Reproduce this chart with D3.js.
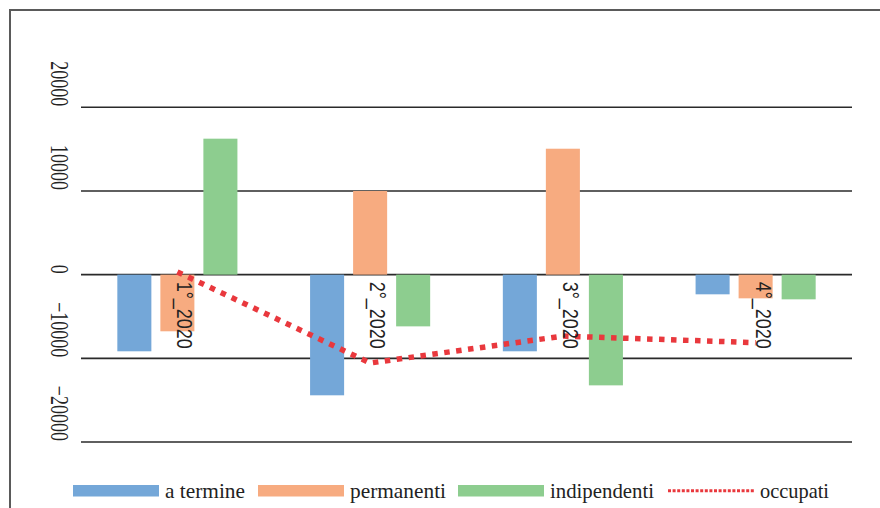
<!DOCTYPE html>
<html>
<head>
<meta charset="utf-8">
<script src="https://cdn.jsdelivr.net/npm/d3@7"></script>
<style>
  html, body { margin: 0; padding: 0; background: #fff; }
  svg { display: block; }
  .serif { font-family: "Liberation Serif", "DejaVu Serif", serif; }
  .sans { font-family: "Liberation Sans", "DejaVu Sans", sans-serif; }
</style>
</head>
<body>
<svg id="chart" width="880" height="508"></svg>
<script>
// Quarterly change in employment, 2020
const quarters = ["1°_2020", "2°_2020", "3°_2020", "4°_2020"];
const seriesNames = ["a termine", "permanenti", "indipendenti"];
const aTermine = [-9160, -14420, -9160, -2350];
const permanenti = [-6770, 10000, 15050, -2830];
const indipendenti = [16250, -6180, -13230, -2950];
const occupati = [320, -10560, -7340, -8130];
const yTicks = [-20000, -10000, 0, 10000, 20000];
const lineName = "occupati";

const colors = {
  "a termine": "#74a7d8",
  "permanenti": "#f7ab80",
  "indipendenti": "#8dcd8f"
};
const lineColor = "#e9383d";

const svg = d3.select("#chart");

// outer frame (top and left edges visible)
svg.append("path")
  .attr("d", "M10,508 L10,10 L880,10")
  .attr("fill", "none")
  .attr("stroke", "#5a5a5a")
  .attr("stroke-width", 2);

const plot = { left: 81, right: 852, top: 107.3, bottom: 442 };

const x0 = d3.scaleBand()
  .domain(quarters)
  .range([plot.left, plot.right])
  .paddingInner(0.377)
  .paddingOuter(0.1885);

const x1 = d3.scaleBand()
  .domain(seriesNames)
  .range([0, x0.bandwidth()])
  .paddingInner(0.209);

const y = d3.scaleLinear()
  .domain([-20000, 20000])
  .range([plot.bottom, plot.top]);

// gridlines
svg.append("g")
  .selectAll("line")
  .data(yTicks)
  .join("line")
  .attr("x1", plot.left)
  .attr("x2", plot.right)
  .attr("y1", d => y(d))
  .attr("y2", d => y(d))
  .attr("stroke", "#2a2a2a")
  .attr("stroke-width", 1.6);

// y tick labels, rotated
svg.append("g")
  .attr("class", "serif")
  .attr("font-size", 18)
  .attr("fill", "#222")
  .selectAll("text")
  .data(yTicks)
  .join("text")
  .attr("text-anchor", "end")
  .attr("transform", d => `translate(51,${y(d) - 1}) rotate(90) scale(1,1.35)`)
  .text(d => d3.format("d")(d));

// bars
const barData = [];
quarters.forEach((q, i) => {
  const vals = [aTermine[i], permanenti[i], indipendenti[i]];
  seriesNames.forEach((s, j) => barData.push({ q, s, v: vals[j] }));
});

svg.append("g")
  .selectAll("rect")
  .data(barData)
  .join("rect")
  .attr("x", d => x0(d.q) + x1(d.s))
  .attr("width", x1.bandwidth())
  .attr("y", d => y(Math.max(0, d.v)))
  .attr("height", d => Math.abs(y(d.v) - y(0)))
  .attr("fill", d => colors[d.s]);

// dotted total line
const line = d3.line()
  .x((d, i) => x0(quarters[i]) + x0.bandwidth() / 2)
  .y(d => y(d));

svg.append("path")
  .datum(occupati)
  .attr("d", line)
  .attr("fill", "none")
  .attr("stroke", lineColor)
  .attr("stroke-width", 5.5)
  .attr("stroke-dasharray", "5.5 6.5");

// category labels, rotated, hanging below the zero line
svg.append("g")
  .attr("class", "sans")
  .attr("font-size", 18)
  .attr("fill", "#222")
  .selectAll("text")
  .data(quarters)
  .join("text")
  .attr("text-anchor", "start")
  .attr("transform", d => `translate(${x0(d) + x0.bandwidth() / 2},${y(0) + 7}) rotate(90) scale(1,1.25)`)
  .text(d => d);

// legend
const legend = svg.append("g")
  .attr("class", "serif")
  .attr("font-size", 21.5)
  .attr("fill", "#222");

const legendItems = [
  { name: seriesNames[0], type: "bar", x: 73, w: 80 },
  { name: seriesNames[1], type: "bar", x: 258, w: 96 },
  { name: seriesNames[2], type: "bar", x: 458, w: 104 },
  { name: lineName, type: "line", x: 668, w: 69 }
];

const swW = 86, swY = 485, swH = 11.5, baseY = 498;
legendItems.forEach(item => {
  if (item.type === "bar") {
    legend.append("rect")
      .attr("x", item.x).attr("y", swY)
      .attr("width", swW).attr("height", swH)
      .attr("fill", colors[item.name]);
  } else {
    legend.append("line")
      .attr("x1", item.x).attr("x2", item.x + swW)
      .attr("y1", swY + swH / 2).attr("y2", swY + swH / 2)
      .attr("stroke", lineColor)
      .attr("stroke-width", 2.8)
      .attr("stroke-dasharray", "3 1.6");
  }
  legend.append("text")
    .attr("x", item.x + swW + 6)
    .attr("y", baseY)
    .attr("textLength", item.w)
    .attr("lengthAdjust", "spacingAndGlyphs")
    .text(item.name);
});
</script>
</body>
</html>
